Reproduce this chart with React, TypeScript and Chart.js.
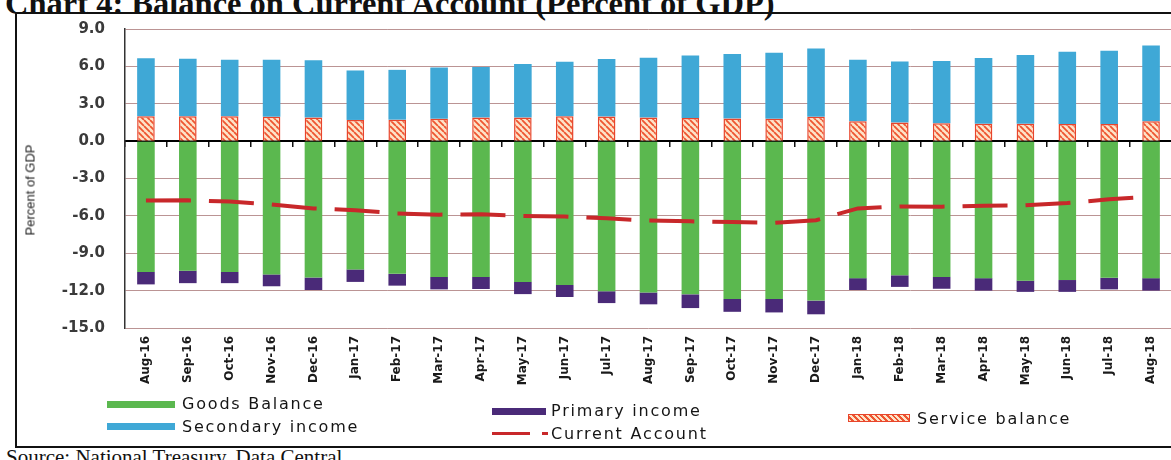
import React, { useEffect, useRef } from 'react';
import { Chart, registerables } from 'chart.js';

Chart.register(...registerables);

const months = [
  'Aug-16', 'Sep-16', 'Oct-16', 'Nov-16', 'Dec-16', 'Jan-17', 'Feb-17', 'Mar-17', 'Apr-17',
  'May-17', 'Jun-17', 'Jul-17', 'Aug-17', 'Sep-17', 'Oct-17', 'Nov-17', 'Dec-17', 'Jan-18',
  'Feb-18', 'Mar-18', 'Apr-18', 'May-18', 'Jun-18', 'Jul-18', 'Aug-18',
];

const goodsBalance = [
  -10.5, -10.4, -10.5, -10.7, -10.95, -10.3, -10.65, -10.9, -10.9, -11.3, -11.55, -12.05, -12.15,
  -12.3, -12.67, -12.67, -12.8, -11.0, -10.77, -10.9, -11.0, -11.2, -11.15, -10.97, -11.0,
];

const serviceBalance = [
  2.0, 2.0, 2.0, 1.95, 1.9, 1.7, 1.72, 1.8, 1.9, 1.9, 2.0, 1.97, 1.9,
  1.85, 1.82, 1.8, 1.95, 1.6, 1.5, 1.44, 1.4, 1.4, 1.38, 1.38, 1.6,
];

const primaryIncome = [
  -1.0, -1.0, -0.9, -0.95, -1.0, -1.0, -0.95, -1.0, -0.97, -0.98, -0.96, -0.95, -0.95,
  -1.1, -1.03, -1.08, -1.1, -0.95, -0.93, -0.95, -1.0, -0.9, -0.95, -0.93, -1.0,
];

const secondaryIncome = [
  4.65, 4.62, 4.54, 4.59, 4.6, 3.97, 4.0, 4.1, 4.05, 4.3, 4.38, 4.63, 4.8,
  5.02, 5.18, 5.3, 5.48, 4.94, 4.9, 5.0, 5.27, 5.52, 5.8, 5.88, 6.07,
];

const currentAccount = [
  -4.77, -4.75, -4.85, -5.08, -5.4, -5.55, -5.8, -5.9, -5.87, -6.0, -6.05, -6.2, -6.38,
  -6.44, -6.5, -6.55, -6.35, -5.4, -5.25, -5.26, -5.18, -5.15, -4.97, -4.67, -4.45,
];

const yMin = -15;
const yMax = 9;
const yStep = 3;

const GREEN = '#5bb84f';
const BLUE = '#3fa8d6';
const PURPLE = '#4a2a78';
const RED = '#c8282a';
const HATCH_BG = '#fde3c8';
const HATCH_LINE = '#ee5530';
const HATCH_BORDER = '#e8452c';

function makeHatch(): CanvasPattern | string {
  const c = document.createElement('canvas');
  c.width = 6;
  c.height = 6;
  const ctx = c.getContext('2d');
  if (!ctx) return HATCH_LINE;
  ctx.fillStyle = HATCH_BG;
  ctx.fillRect(0, 0, 6, 6);
  ctx.strokeStyle = HATCH_LINE;
  ctx.lineWidth = 1.8;
  ctx.beginPath();
  for (const a of [-6, 0, 6]) {
    ctx.moveTo(a, 0);
    ctx.lineTo(a + 6, 6);
  }
  ctx.stroke();
  return ctx.createPattern(c, 'repeat') || HATCH_LINE;
}

const legendFont: React.CSSProperties = {
  position: 'absolute',
  fontFamily: '"DejaVu Sans", sans-serif',
  fontSize: 16,
  letterSpacing: '1.8px',
  color: '#151515',
  whiteSpace: 'nowrap',
  lineHeight: '20px',
};

export default function App() {
  const canvasRef = useRef<HTMLCanvasElement | null>(null);

  useEffect(() => {
    const canvas = canvasRef.current;
    if (!canvas) return;
    const hatch = makeHatch();
    const chart = new Chart(canvas, {
      type: 'bar',
      data: {
        labels: months,
        datasets: [
          {
            type: 'line',
            label: 'Current Account',
            data: currentAccount,
            borderColor: RED,
            borderWidth: 4,
            borderDash: [45, 18],
            pointRadius: 0,
            fill: false,
            tension: 0,
            order: 0,
          } as any,
          { label: 'Goods Balance', data: goodsBalance, backgroundColor: GREEN, order: 1 },
          {
            label: 'Service balance',
            data: serviceBalance,
            backgroundColor: hatch as any,
            borderColor: HATCH_BORDER,
            borderWidth: 1.5,
            order: 1,
          },
          { label: 'Primary income', data: primaryIncome, backgroundColor: PURPLE, order: 1 },
          { label: 'Secondary income', data: secondaryIncome, backgroundColor: BLUE, order: 1 },
        ],
      },
      options: {
        responsive: false,
        animation: false,
        devicePixelRatio: 1,
        datasets: { bar: { barPercentage: 0.42, categoryPercentage: 1.0 } },
        layout: { padding: { top: 22, right: 18, bottom: 0, left: 0 } },
        plugins: { legend: { display: false }, tooltip: { enabled: false }, title: { display: false } },
        scales: {
          x: {
            stacked: true,
            offset: true,
            grid: { display: false, drawTicks: false },
            border: { display: false },
            ticks: {
              autoSkip: false,
              minRotation: 90,
              maxRotation: 90,
              padding: 8,
              color: '#1a1a1a',
              font: { family: '"DejaVu Sans", sans-serif', size: 12, weight: 'bold' },
            },
            afterFit: (s: any) => {
              s.height = 72;
            },
          },
          x2: {
            type: 'category',
            axis: 'x',
            position: { y: 0 },
            offset: true,
            grid: {
              display: true,
              drawOnChartArea: false,
              drawTicks: true,
              tickLength: 5,
              color: '#111',
              lineWidth: 1.5,
              offset: true,
            },
            border: { display: true, color: '#000', width: 2 },
            ticks: { display: false },
          } as any,
          y: {
            stacked: true,
            min: yMin,
            max: yMax,
            ticks: {
              stepSize: yStep,
              padding: 20,
              color: '#3a3a3a',
              font: { family: '"DejaVu Sans", sans-serif', size: 15, weight: 'bold' },
              callback: (v: any) => Number(v).toFixed(1),
            },
            grid: {
              color: (ctx: any) => (ctx.tick && ctx.tick.value === 0 ? 'rgba(0,0,0,0)' : '#bb9494'),
              lineWidth: 1,
              drawTicks: false,
            },
            border: { display: true, color: '#333', width: 1.5 },
            afterFit: (s: any) => {
              s.width = 125;
            },
          },
        },
      } as any,
    });
    return () => chart.destroy();
  }, []);

  return (
    <div
      style={{
        position: 'absolute',
        left: 0,
        top: 0,
        width: 1171,
        height: 460,
        overflow: 'hidden',
        background: '#ffffff',
      }}
    >
      <div
        style={{
          position: 'absolute',
          left: 5,
          top: -13,
          fontFamily: '"Liberation Serif", serif',
          fontWeight: 'bold',
          fontSize: 32.5,
          lineHeight: '32px',
          color: '#111',
          whiteSpace: 'nowrap',
        }}
      >
        Chart 4: Balance on Current Account (Percent of GDP)
      </div>
      <div
        style={{
          position: 'absolute',
          left: 15,
          top: 12,
          width: 1220,
          height: 432,
          border: '2px solid #111',
        }}
      />
      <div style={{ position: 'absolute', left: 0, top: 0, width: 1190, height: 400 }}>
        <canvas ref={canvasRef} width={1190} height={400} />
      </div>
      <div
        style={{
          position: 'absolute',
          left: 30,
          top: 190,
          transform: 'translate(-50%, -50%) rotate(-90deg)',
          fontFamily: '"Liberation Sans", sans-serif',
          fontSize: 13,
          color: '#222',
          whiteSpace: 'nowrap',
        }}
      >
        Percent of GDP
      </div>

      {/* Legend */}
      <div style={{ position: 'absolute', left: 107, top: 401, width: 68, height: 7, background: GREEN }} />
      <div style={{ ...legendFont, left: 182, top: 394 }}>Goods Balance</div>

      <div style={{ position: 'absolute', left: 107, top: 423, width: 68, height: 7, background: BLUE }} />
      <div style={{ ...legendFont, left: 182, top: 417 }}>Secondary income</div>

      <div style={{ position: 'absolute', left: 492, top: 408, width: 54, height: 7, background: PURPLE }} />
      <div style={{ ...legendFont, left: 551, top: 401 }}>Primary income</div>

      <div style={{ position: 'absolute', left: 492, top: 432, width: 38, height: 3, background: RED }} />
      <div style={{ position: 'absolute', left: 542, top: 432, width: 6, height: 3, background: RED }} />
      <div style={{ ...legendFont, left: 551, top: 424 }}>Current Account</div>

      <div
        style={{
          position: 'absolute',
          left: 848,
          top: 414,
          width: 62,
          height: 8,
          boxSizing: 'border-box',
          border: `1px solid ${HATCH_BORDER}`,
          background: `repeating-linear-gradient(45deg, ${HATCH_BG} 0px, ${HATCH_BG} 2px, ${HATCH_LINE} 2px, ${HATCH_LINE} 4px)`,
        }}
      />
      <div style={{ ...legendFont, left: 917, top: 409 }}>Service balance</div>

      <div
        style={{
          position: 'absolute',
          left: 6,
          top: 446,
          fontFamily: '"Liberation Serif", serif',
          fontSize: 21,
          lineHeight: '22px',
          color: '#111',
          whiteSpace: 'nowrap',
        }}
      >
        Source: National Treasury, Data Central
      </div>
    </div>
  );
}
